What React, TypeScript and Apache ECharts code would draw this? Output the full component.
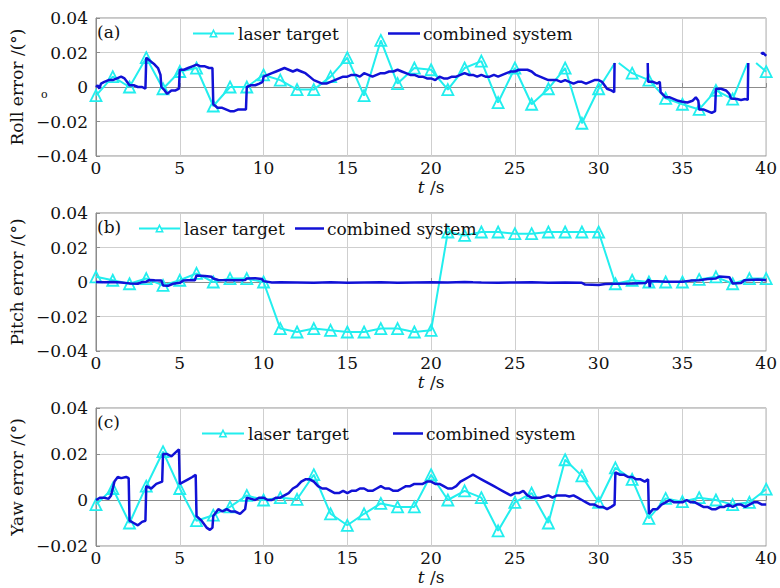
import React, { useEffect, useRef } from "react";
import * as echarts from "echarts";

type P = [number, number | null];

const xTicks = { min: 0, max: 40, interval: 5 };
const panelLabels = ["(a)", "(b)", "(c)"];
const yNames = ["Roll error /(°)", "Pitch error /(°)", "Yaw error /(°)"];
const yRanges = [
  { min: -0.04, max: 0.04 },
  { min: -0.04, max: 0.04 },
  { min: -0.02, max: 0.04 },
];

const rollLaser: P[] = [
  [0, -0.005], [1, 0.006], [2, 0.0], [3, 0.017], [4, -0.001], [5, 0.009], [6, 0.011], [7, -0.011],
  [8, 0.0], [9, 0.0], [10, 0.007], [11, 0.004], [12, -0.0015], [13, -0.0015], [14, 0.006], [15, 0.017],
  [16, -0.005], [17, 0.027], [18, 0.002], [19, 0.011], [20, 0.010], [21, -0.0015], [22, 0.011], [23, 0.015],
  [24, -0.009], [25, 0.011], [26, -0.010], [27, -0.001], [28, 0.011], [29, -0.021], [30, -0.001],
  [30.97, 0.0139], [31, null], [31.2, 0.0139], [32, 0.008], [33, 0.004], [34, -0.0066], [35, -0.010],
  [36, -0.013], [37, -0.002], [38, -0.007], [38.88, 0.0139], [39, null], [39.4, 0.0139], [40, 0.0089],
];

const rollSystem: P[] = [
  [0, 0.0], [0.1, 0.001], [0.2, -0.001], [0.3, 0.002], [0.5, 0.003], [0.75, 0.004], [1, 0.004], [1.25, 0.005],
  [1.5, 0.006], [1.7, 0.005], [1.85, 0.003], [2, 0.001], [2.25, 0.001], [2.5, 0.0], [2.75, 0.0], [2.95, -0.001],
  [3, 0.017], [3.25, 0.015], [3.5, 0.013], [3.7, 0.011], [3.85, 0.007], [3.9, 0.0], [4.1, -0.002], [4.25, -0.004],
  [4.5, -0.002], [4.75, -0.002], [4.95, -0.001], [5, 0.010], [5.25, 0.010], [5.5, 0.011], [5.75, 0.012], [6, 0.013],
  [6.25, 0.012], [6.5, 0.012], [6.75, 0.011], [6.95, 0.011], [7, -0.010], [7.25, -0.012], [7.5, -0.012],
  [7.75, -0.013], [8, -0.014], [8.25, -0.014], [8.5, -0.013], [8.75, -0.013], [8.95, -0.013], [9, 0.0],
  [9.25, 0.001], [9.5, 0.001], [9.75, 0.002], [9.95, 0.003], [10, 0.006], [10.25, 0.007], [10.5, 0.008],
  [10.75, 0.009], [11, 0.010], [11.25, 0.011], [11.5, 0.010], [11.75, 0.009], [12, 0.010], [12.25, 0.009],
  [12.5, 0.008], [12.75, 0.006], [13, 0.004], [13.25, 0.003], [13.5, 0.002], [13.75, 0.002], [14, 0.003],
  [14.25, 0.004], [14.5, 0.005], [14.75, 0.006], [15, 0.006], [15.25, 0.007], [15.5, 0.007], [15.75, 0.006],
  [16, 0.008], [16.25, 0.007], [16.5, 0.006], [16.75, 0.007], [17, 0.008], [17.25, 0.008], [17.5, 0.009],
  [17.75, 0.009], [18, 0.010], [18.25, 0.009], [18.5, 0.008], [18.75, 0.007], [19, 0.007], [19.25, 0.006],
  [19.5, 0.006], [19.75, 0.005], [20, 0.005], [20.25, 0.004], [20.5, 0.006], [20.75, 0.005], [21, 0.005],
  [21.25, 0.006], [21.5, 0.006], [21.75, 0.007], [22, 0.008], [22.25, 0.007], [22.5, 0.007], [22.75, 0.006],
  [23, 0.007], [23.25, 0.006], [23.5, 0.006], [23.75, 0.007], [24, 0.006], [24.25, 0.007], [24.5, 0.008],
  [24.75, 0.009], [25, 0.009], [25.25, 0.010], [25.5, 0.010], [25.75, 0.010], [26, 0.009], [26.25, 0.007],
  [26.5, 0.006], [26.75, 0.005], [27, 0.004], [27.25, 0.004], [27.5, 0.004], [27.75, 0.003], [28, 0.004],
  [28.25, 0.003], [28.5, 0.002], [28.75, 0.003], [29, 0.003], [29.25, 0.002], [29.5, 0.003], [29.75, 0.004],
  [30, 0.004], [30.2, 0.003], [30.35, 0.001], [30.5, -0.001], [30.75, -0.002], [30.93, -0.003], [30.95, 0.0139],
  [31, null], [32.93, 0.0139], [32.95, 0.003], [33.25, 0.003], [33.5, 0.002], [33.65, 0.003], [33.7, -0.003],
  [34, -0.006], [34.25, -0.006], [34.5, -0.007], [34.75, -0.008], [35, -0.0085], [35.3, -0.009], [35.6, -0.008],
  [35.8, -0.006], [35.95, -0.008], [36, -0.013], [36.25, -0.013], [36.5, -0.014], [36.75, -0.015], [36.95, -0.014],
  [37, -0.001], [37.3, -0.001], [37.6, -0.002], [37.8, -0.004], [37.9, -0.0066], [38.25, -0.007], [38.5, -0.0075],
  [38.75, -0.007], [38.9, -0.0075], [38.93, 0.0139], [39, null], [39.7, 0.019], [39.8, 0.020], [40, 0.018],
];

const pitchLaser: P[] = [
  [0, 0.003], [1, 0.001], [2, -0.001], [3, 0.002], [4, -0.002], [5, 0.001], [6, 0.005], [7, 0.0], [8, 0.002],
  [9, 0.002], [10, 0.0], [11, -0.027], [12, -0.029], [13, -0.027], [14, -0.028], [15, -0.029], [16, -0.029],
  [17, -0.027], [18, -0.027], [19, -0.029], [20, -0.028], [21, 0.029], [22, 0.027], [23, 0.029], [24, 0.029],
  [25, 0.028], [26, 0.028], [27, 0.029], [28, 0.029], [29, 0.029], [30, 0.029], [31, -0.001], [32, 0.001],
  [33, 0.0], [34, 0.0], [35, 0.0], [36, 0.0015], [37, 0.003], [38, -0.001], [39, 0.002], [40, 0.002],
];

const pitchSystem: P[] = [
  [0, 0.0], [0.5, -0.0002], [1, 0.0], [1.5, -0.0003], [2, -0.0008], [2.5, -0.001], [2.7, -0.0002], [3, 0.0002],
  [3.2, 0.0012], [3.5, 0.001], [3.9, 0.0009], [4, -0.002], [4.3, -0.0022], [4.6, -0.001], [5, -0.0005],
  [5.2, 0.0008], [5.5, 0.001], [5.9, 0.001], [6, 0.0038], [6.5, 0.0035], [6.9, 0.003], [7, 0.002], [7.3, 0.0012],
  [8, 0.001], [8.5, 0.001], [8.9, 0.0012], [9, 0.002], [9.5, 0.0022], [9.9, 0.0018], [10, 0.0005],
  [10.5, -0.0003], [11, -0.0002], [12, -0.0003], [13, -0.0004], [14, -0.0002], [15, -0.0004], [16, -0.0003],
  [17, -0.0002], [18, -0.0004], [19, -0.0003], [20, -0.0002], [21, -0.0003], [22, 0.0], [22.5, -0.0002],
  [23, -0.0003], [24, -0.0004], [25, -0.0003], [26, -0.0002], [27, -0.0004], [28, -0.0003], [29, -0.0005],
  [29.2, -0.0015], [30, -0.0018], [30.4, -0.0012], [31, -0.001], [32, -0.0008], [32.8, -0.0006], [33, 0.0015],
  [33.05, -0.003], [33.1, 0.0005], [33.5, 0.0005], [34, 0.0002], [35, 0.0002], [35.5, 0.0008], [36, 0.001],
  [36.5, 0.0018], [37, 0.002], [37.2, 0.0032], [37.8, 0.0028], [38, -0.0008], [38.5, -0.0006], [38.7, 0.001],
  [39, 0.0012], [39.5, 0.0015], [40, 0.001],
];

const yawLaser: P[] = [
  [0, -0.002], [1, 0.005], [2, -0.010], [3, 0.006], [4, 0.021], [5, 0.005], [6, -0.009], [7, -0.0066],
  [8, -0.003], [9, 0.002], [10, 0.0], [11, 0.001], [12, 0.0003], [13, 0.011], [14, -0.006], [15, -0.011],
  [16, -0.006], [17, -0.0015], [18, -0.003], [19, -0.003], [20, 0.011], [21, 0.0], [22, 0.004], [23, 0.001],
  [24, -0.0134], [25, -0.001], [26, 0.003], [27, -0.010], [28, 0.0175], [29, 0.0105], [30, -0.001], [31, 0.014],
  [32, 0.009], [33, -0.008], [34, 0.0007], [35, -0.0007], [36, 0.001], [37, 0.0], [38, -0.002], [39, -0.001],
  [40, 0.0047],
];

const yawSystem: P[] = [
  [0, 0.0], [0.25, 0.001], [0.5, 0.001], [0.75, 0.0005], [0.9, 0.002], [1.1, 0.008], [1.3, 0.010], [1.5, 0.0095],
  [1.8, 0.010], [1.95, 0.0095], [2, -0.009], [2.25, -0.010], [2.5, -0.011], [2.75, -0.0095], [2.95, -0.009],
  [3, 0.006], [3.3, 0.005], [3.6, 0.007], [3.95, 0.008], [4, 0.020], [4.25, 0.020], [4.5, 0.019], [4.8, 0.021],
  [4.95, 0.022], [5, 0.007], [5.25, 0.008], [5.5, 0.009], [5.75, 0.010], [5.95, 0.011], [6, -0.007],
  [6.3, -0.009], [6.6, -0.012], [6.8, -0.013], [6.95, -0.012], [7, -0.007], [7.3, -0.004], [7.55, -0.005],
  [7.8, -0.004], [8.05, -0.005], [8.3, -0.005], [8.6, -0.006], [8.9, -0.004], [9, 0.001], [9.25, 0.0005],
  [9.5, 0.0], [9.75, 0.001], [10, 0.001], [10.25, 0.0], [10.5, 0.0], [10.75, 0.001], [11, 0.001], [11.25, 0.002],
  [11.5, 0.003], [11.75, 0.005], [12, 0.006], [12.25, 0.008], [12.5, 0.009], [12.75, 0.009], [13, 0.008],
  [13.25, 0.006], [13.5, 0.005], [13.75, 0.005], [14, 0.004], [14.25, 0.003], [14.5, 0.003], [14.75, 0.004],
  [15, 0.003], [15.25, 0.004], [15.5, 0.004], [15.75, 0.005], [16, 0.005], [16.25, 0.004], [16.5, 0.004],
  [16.75, 0.005], [17, 0.006], [17.25, 0.005], [17.5, 0.005], [17.75, 0.004], [18, 0.004], [18.25, 0.005],
  [18.5, 0.006], [18.75, 0.006], [19, 0.007], [19.25, 0.007], [19.5, 0.007], [19.75, 0.008], [20, 0.008],
  [20.25, 0.007], [20.5, 0.007], [20.75, 0.006], [21, 0.005], [21.25, 0.005], [21.5, 0.006], [21.75, 0.008],
  [22, 0.009], [22.25, 0.010], [22.5, 0.011], [22.75, 0.010], [23, 0.009], [23.25, 0.008], [23.5, 0.007],
  [23.75, 0.006], [24, 0.005], [24.25, 0.004], [24.5, 0.003], [24.75, 0.002], [25, 0.003], [25.25, 0.003],
  [25.5, 0.004], [25.75, 0.002], [26, 0.001], [26.25, 0.001], [26.5, 0.001], [26.75, 0.0015], [27, 0.002],
  [27.25, 0.001], [27.5, 0.002], [27.75, 0.002], [28, 0.002], [28.25, 0.0015], [28.5, 0.002], [28.75, 0.001],
  [29, 0.0], [29.25, -0.001], [29.5, -0.002], [29.75, -0.002], [30, -0.003], [30.25, -0.003], [30.5, -0.004],
  [30.75, -0.003], [30.95, -0.002], [31, 0.012], [31.25, 0.011], [31.5, 0.011], [31.75, 0.010], [32, 0.010],
  [32.25, 0.009], [32.5, 0.009], [32.75, 0.008], [32.95, 0.009], [33, -0.006], [33.25, -0.004], [33.5, -0.004],
  [33.75, -0.002], [34, -0.001], [34.25, 0.0], [34.5, -0.001], [34.75, -0.001], [35, -0.001], [35.25, 0.0],
  [35.5, -0.001], [35.75, -0.001], [36, -0.002], [36.25, -0.003], [36.5, -0.003], [36.75, -0.004],
  [37, -0.004], [37.25, -0.003], [37.5, -0.003], [37.75, -0.002], [38, -0.003], [38.25, -0.002], [38.5, -0.002],
  [38.75, -0.003], [39, -0.002], [39.25, -0.001], [39.5, -0.001], [39.75, -0.002], [40, -0.002],
];

const laserData = [rollLaser, pitchLaser, yawLaser];
const systemData = [rollSystem, pitchSystem, yawSystem];

const CYAN = "#22eeee";
const BLUE = "#1111d6";
const FONT = "DejaVu Serif";

const gridTops = [18, 213, 408];
const GRID_LEFT = 94;
const GRID_W = 673;
const GRID_H = 138;

// legend placement: [laserIconLeft, laserIconWidth, systemIconLeft, systemIconWidth, centerY]
const legendPos = [
  [192, 41, 388, 32, 33],
  [138, 41, 295, 29, 228],
  [201, 42, 393, 30, 433],
];

function fmt(v: number) {
  if (Math.abs(v) < 1e-9) return "0";
  const s = Math.abs(v).toFixed(2);
  return v < 0 ? "\u2212" + s : s;
}

function laserSeriesData(pts: P[]) {
  return pts.map(([t, v]) =>
    v === null
      ? [t, "-"]
      : { value: [t, v], symbol: Number.isInteger(t) ? "triangle" : "none" }
  );
}

function systemSeriesData(pts: P[]) {
  return pts.map(([t, v]) => (v === null ? [t, "-"] : [t, v]));
}

export default function App() {
  const ref = useRef<HTMLDivElement>(null);
  useEffect(() => {
    if (!ref.current) return;
    const chart = echarts.init(ref.current, undefined, { renderer: "svg" });
    const grids = gridTops.map((top) => ({
      left: GRID_LEFT,
      top,
      width: GRID_W,
      height: GRID_H,
      show: true,
      borderColor: "#8c8c8c",
      borderWidth: 1,
      backgroundColor: "#fff",
    }));
    const xAxes = gridTops.map((_, i) => ({
      type: "value",
      gridIndex: i,
      min: xTicks.min,
      max: xTicks.max,
      interval: xTicks.interval,
      name: "{i|t} /s",
      nameLocation: "middle",
      nameGap: 22,
      nameTextStyle: {
        fontFamily: FONT,
        fontSize: 17,
        color: "#111",
        rich: { i: { fontFamily: FONT, fontStyle: "italic", fontSize: 17, color: "#111" } },
      },
      axisLine: { show: true, lineStyle: { color: "#8c8c8c" } },
      axisTick: { show: true, inside: true, length: 4, lineStyle: { color: "#8c8c8c" } },
      axisLabel: { fontFamily: FONT, fontSize: 17, color: "#111", margin: 3 },
      splitLine: { show: true, lineStyle: { color: "#cfcfcf", width: 1 } },
    }));
    const yAxes = gridTops.map((_, i) => ({
      type: "value",
      gridIndex: i,
      min: yRanges[i].min,
      max: yRanges[i].max,
      interval: 0.02,
      name: yNames[i],
      nameLocation: "middle",
      nameGap: 66,
      nameTextStyle: { fontFamily: FONT, fontSize: 17, color: "#111" },
      axisLine: { show: true, lineStyle: { color: "#8c8c8c" } },
      axisTick: { show: true, inside: true, length: 4, lineStyle: { color: "#8c8c8c" } },
      axisLabel: { fontFamily: FONT, fontSize: 17, color: "#111", margin: 8, formatter: fmt },
      splitLine: { show: true, lineStyle: { color: "#cfcfcf", width: 1 } },
    }));
    const series: any[] = [];
    gridTops.forEach((_, i) => {
      series.push({
        type: "line",
        name: "laser target",
        xAxisIndex: i,
        yAxisIndex: i,
        data: laserSeriesData(laserData[i]),
        symbol: "triangle",
        symbolSize: 11,
        showAllSymbol: true,
        lineStyle: { color: CYAN, width: 2 },
        itemStyle: { color: "rgba(255,255,255,0)", borderColor: CYAN, borderWidth: 1.8 },
        z: 2,
      });
      series.push({
        type: "line",
        name: "combined system",
        xAxisIndex: i,
        yAxisIndex: i,
        data: systemSeriesData(systemData[i]),
        symbol: "none",
        lineStyle: { color: BLUE, width: 2.5 },
        itemStyle: { color: BLUE },
        z: 3,
      });
    });
    const legends: any[] = [];
    legendPos.forEach(([l1, w1, l2, w2, cy]) => {
      legends.push({
        left: l1,
        top: cy - 8,
        padding: 0,
        itemWidth: w1,
        itemHeight: 8,
        itemGap: 0,
        data: ["laser target"],
        itemStyle: { color: "#ffffff", borderColor: CYAN, borderWidth: 1.5 },
        lineStyle: { color: CYAN, width: 2 },
        textStyle: { fontFamily: FONT, fontSize: 17, color: "#111", padding: [0, 0, 0, -1] },
        selectedMode: false,
      });
      legends.push({
        left: l2,
        top: cy - 8,
        padding: 0,
        itemWidth: w2,
        itemHeight: 2.5,
        itemGap: 0,
        data: [{ name: "combined system", icon: "rect" }],
        itemStyle: { color: BLUE },
        textStyle: { fontFamily: FONT, fontSize: 17, color: "#111", padding: [0, 0, 0, -2] },
        selectedMode: false,
      });
    });
    const graphics: any[] = gridTops.map((top, i) => ({
      type: "text",
      left: 97,
      top: top + 5,
      style: { text: panelLabels[i], font: `17px "${FONT}"`, fill: "#111" },
      z: 10,
    }));
    graphics.push({
      type: "text",
      left: 41,
      top: 89,
      style: { text: "o", font: `11px "${FONT}"`, fill: "#111" },
    });
    chart.setOption({
      animation: false,
      backgroundColor: "#fff",
      grid: grids,
      xAxis: xAxes,
      yAxis: yAxes,
      legend: legends,
      series,
      graphic: graphics,
    });
    return () => chart.dispose();
  }, []);
  return <div ref={ref} style={{ width: 780, height: 588, position: "absolute", left: 0, top: 0 }} />;
}
